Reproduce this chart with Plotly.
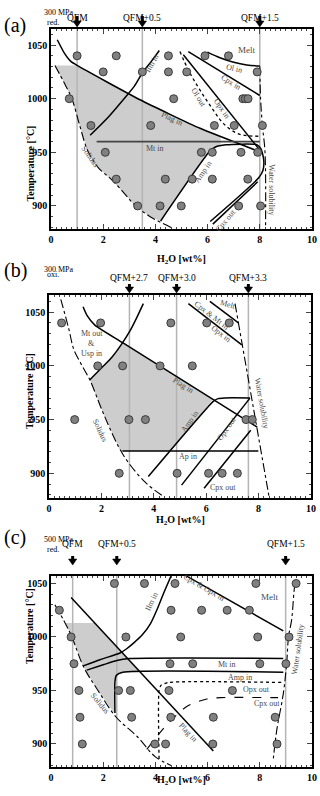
import plotly.graph_objects as go

FIG_W, FIG_H = 320, 796
SERIF = "Liberation Serif"
LBL = "#4a4a4a"

# ================= Panel (a): 300 MPa, reduced =================
a_qfm_x = [1.0, 3.5, 8.0]
a_qfm_labels = ["QFM", "QFM+0.5", "QFM+1.5"]
a_exp_x = [1.0, 2.5, 4.5, 5.9, 6.8,
           2.0, 3.5, 4.5, 5.2, 7.9,
           0.7, 4.7, 7.35, 7.45, 7.55,
           1.53, 3.82, 6.26, 7.02, 8.1,
           2.08, 5.76, 6.18, 7.28, 7.92,
           2.5, 4.38, 5.41, 6.18, 7.54,
           3.32, 4.18, 4.99, 7.19, 8.03]
a_exp_T = [1040, 1040, 1040, 1040, 1040,
           1025, 1025, 1025, 1025, 1025,
           1000, 1000, 1000, 1000, 1000,
           975, 975, 975, 975, 975,
           950, 950, 950, 950, 950,
           925, 925, 925, 925, 925,
           900, 900, 900, 900, 900]
a_solidus_x = [0.15, 0.5, 0.8, 1.1, 1.4, 1.8, 2.3, 2.8, 3.2, 3.8, 4.6]
a_solidus_T = [1031, 1015, 1000, 975, 952, 936, 925, 912, 901, 890, 880]
a_plag_x = [0.24, 0.5, 0.75, 1.0, 3.41, 5.71, 8.05]
a_plag_T = [1055, 1043, 1035, 1031, 999, 972.4, 950]
a_ilm_x = [1.5, 2.2, 2.8, 3.2, 3.5, 3.85, 4.15]
a_ilm_T = [966, 983, 1000, 1012, 1024, 1035, 1045]
a_mt_x = [1.75, 8.0]
a_mt_T = [960, 960]
a_amp_x = [4.2, 6.05, 6.3, 6.7, 7.9, 8.05, 8.15, 8.12, 7.95, 6.1]
a_amp_T = [886, 950, 955, 957, 957, 953, 943, 933, 926, 885.5]
a_cpxout_x = [7.92, 6.2]
a_cpxout_T = [922.5, 883]
a_olout_x = [4.94, 5.3, 5.71, 6.2, 6.6, 7.1, 7.5, 8.0]
a_olout_T = [1044, 1025, 1008, 990, 977, 968, 965.5, 965]
a_opxin_x = [5.07, 7.9, 8.1]
a_opxin_T = [1041, 955, 949]
a_cpxin_x = [5.26, 8.0]
a_cpxin_T = [1044, 1003]
a_olin_x = [5.99, 6.5, 7.0, 7.5, 8.0]
a_olin_T = [1043.5, 1038, 1034, 1031.5, 1030.5]
a_water_x = [8.0, 8.03, 8.1, 8.2, 8.22]
a_water_T = [1030, 1000, 975, 950, 880]
a_shade_x = [4.2, 3.8, 3.2, 2.8, 2.3, 1.8, 1.4, 1.1, 0.8, 0.5, 0.15, 1.0, 3.41, 5.71, 6.5, 6.5, 6.3, 6.05, 4.2]
a_shade_T = [886, 890, 901, 912, 925, 936, 952, 975, 1000, 1015, 1031, 1031, 999, 972.4, 964.8, 957, 955, 950, 886]

# ================= Panel (b): 300 MPa, oxidized =================
b_qfm_x = [3.07, 4.87, 7.61]
b_qfm_labels = ["QFM+2.7", "QFM+3.0", "QFM+3.3"]
b_exp_x = [0.48, 1.97, 4.65, 6.02, 6.88,
           1.86, 2.81, 4.24, 5.47,
           0.98, 3.05, 3.68, 7.52, 7.76,
           2.68, 4.89, 6.09, 6.61, 7.19]
b_exp_T = [1040, 1040, 1040, 1040, 1040,
           1000, 1000, 1000, 1000,
           950, 950, 950, 950, 950,
           900, 900, 900, 900, 900]
b_solidus_x = [0.45, 0.75, 0.95, 1.2, 1.4, 1.56, 2.07, 2.65, 3.0, 3.7, 4.4]
b_solidus_T = [1062, 1035, 1015, 1003, 994, 987, 956, 925, 911, 891, 878]
b_mtout_x = [1.56, 2.0, 2.4, 2.81, 3.1, 3.35, 3.6]
b_mtout_T = [987, 998, 1008, 1021.6, 1033, 1045, 1058]
b_plag_x = [1.3, 1.45, 1.75, 2.81, 7.95]
b_plag_T = [1055, 1047, 1038, 1021.6, 943]
b_melt_x = [6.14, 7.23]
b_melt_T = [1060, 1040]
b_cpxmt_x = [5.32, 7.36]
b_cpxmt_T = [1058, 1019.5]
b_water_x = [7.1, 8.4]
b_water_T = [1058, 878]
b_amp_x = [3.79, 6.27, 6.45, 6.7, 7.67]
b_amp_T = [897, 967, 969.5, 970.2, 970.2]
b_opxout_x = [7.67, 5.06]
b_opxout_T = [970, 889]
b_cpxout_x = [7.7, 5.92]
b_cpxout_T = [940, 886]
b_ap_x = [2.8, 7.99]
b_ap_T = [920.7, 920.7]
b_shade_x = [1.56, 2.0, 2.4, 2.81, 6.25, 4.63, 2.72, 2.65, 2.07, 1.56]
b_shade_T = [987, 998, 1008, 1021.6, 969, 920.7, 920.7, 925, 956, 987]

# ================= Panel (c): 500 MPa, reduced =================
c_qfm_x = [0.83, 2.52, 8.99]
c_qfm_labels = ["QFM", "QFM+0.5", "QFM+1.5"]
c_exp_x = [2.43, 3.58, 4.75, 7.85, 9.39,
           0.32, 4.6, 5.77, 6.75, 7.6,
           0.77, 2.87, 4.97, 7.92, 9.12,
           0.88, 4.56, 5.43, 8.0, 9.0,
           1.07, 2.59, 3.04, 4.52, 6.95,
           1.11, 3.09, 4.59, 6.22, 8.59,
           1.2, 3.98, 4.39, 6.2, 8.66]
c_exp_T = [1050, 1050, 1050, 1050, 1050,
           1025, 1025, 1025, 1025, 1025,
           1000, 1000, 1000, 1000, 1000,
           975, 975, 975, 975, 975,
           950, 950, 950, 950, 950,
           925, 925, 925, 925, 925,
           900, 900, 900, 900, 900]
c_solidus_x = [0.15, 0.5, 0.8, 1.25, 1.8, 2.5, 3.3, 4.0, 4.6]
c_solidus_T = [1030, 1015, 1000, 972, 950, 925, 907, 888, 880]
c_plag_x = [0.77, 6.22]
c_plag_T = [1037, 893.4]
c_ilm_x = [1.24, 1.9, 2.64, 2.9, 3.15, 3.5, 3.8, 4.05, 4.3, 4.6]
c_ilm_T = [973, 979, 985, 989, 994, 1002, 1012, 1025, 1040, 1057]
c_mt_x = [1.37, 2.0, 2.52, 3.0, 8.9]
c_mt_T = [969, 974, 978, 979.8, 980]
c_amp_x = [2.45, 2.45, 2.5, 2.75, 8.9]
c_amp_T = [929, 958, 964, 967, 967]
c_opxout_x = [4.14, 4.14, 4.22, 4.5, 8.88]
c_opxout_T = [886, 950, 955, 957.5, 957.5]
c_cpxout_x = [3.67, 4.43, 5.2, 5.97, 6.5, 8.7]
c_cpxout_T = [895, 917.7, 935, 942, 943.3, 943.3]
c_cpxopx_x = [5.2, 8.9]
c_cpxopx_T = [1056.8, 1005.7]
c_water_x = [9.39, 9.35, 9.22, 9.1, 9.03, 8.9, 8.65, 8.52]
c_water_T = [1050, 1048.6, 1016, 1000, 975.4, 947, 913, 886.6]
c_shade_x = [0.55, 1.68, 3.43, 2.75, 2.5, 2.45, 2.45, 1.8, 1.25, 0.8, 0.55]
c_shade_T = [1013, 1013, 967, 967, 964, 958, 928, 950, 972, 1000, 1013]

# ================= geometry (pixels) =================
panels = {
    "a": dict(x0=51, x1=312, top=29, bot=229, yr=[878.5, 1065]),
    "b": dict(x0=49, x1=311, top=295, bot=498, yr=[877, 1066]),
    "c": dict(x0=51, x1=312, top=576, bot=767, yr=[878.5, 1057]),
}
suffix = {"a": "", "b": "2", "c": "3"}

fig = go.Figure()


def px(xp):
    return xp / FIG_W


def py(yp):
    return 1 - yp / FIG_H


def ax(p):
    s = suffix[p]
    return "x" + s, "y" + s


def add_line(p, xs, ys, dash="solid", color="black", width=1.5, shape="linear", smooth=1.0):
    xa, ya = ax(p)
    line = dict(color=color, width=width, dash=dash, shape=shape)
    if shape == "spline":
        line["smoothing"] = smooth
    fig.add_trace(go.Scatter(x=xs, y=ys, mode="lines", line=line, xaxis=xa, yaxis=ya,
                             hoverinfo="skip", showlegend=False))


def add_shade(p, xs, ys):
    xa, ya = ax(p)
    fig.add_trace(go.Scatter(x=xs, y=ys, mode="lines", fill="toself", fillcolor="#cdcdcd",
                             line=dict(width=0, color="rgba(0,0,0,0)"), xaxis=xa, yaxis=ya,
                             hoverinfo="skip", showlegend=False))


def add_vlines(p, xs):
    r = panels[p]["yr"]
    for x in xs:
        add_line(p, [x, x], r, color="#b4b4b4", width=1.5)


def add_dots(p, xs, ys):
    xa, ya = ax(p)
    fig.add_trace(go.Scatter(x=xs, y=ys, mode="markers",
                             marker=dict(size=8, color="#808080", line=dict(color="#3a3a3a", width=1)),
                             xaxis=xa, yaxis=ya, hoverinfo="skip", showlegend=False))


annotations = []
shapes = []


def label(p, x, y, text, angle=0, size=8, color=LBL):
    xa, ya = ax(p)
    annotations.append(dict(x=x, y=y, xref=xa, yref=ya, text=text, showarrow=False,
                            textangle=angle, font=dict(family=SERIF, size=size, color=color)))


def header(p, letter, pressure, cond, qx, qlabels, qlab_y, letter_y, press_y, cond_y,
           arrow_tip, arrow_top):
    g = panels[p]
    xa, _ = ax(p)
    annotations.append(dict(x=px(3), y=py(letter_y), xref="paper", yref="paper", xanchor="left",
                            text=letter, showarrow=False, borderpad=0,
                            font=dict(family=SERIF, size=20, color="black")))
    annotations.append(dict(x=px(43), y=py(press_y), xref="paper", yref="paper",
                            text=pressure, showarrow=False, borderpad=0,
                            font=dict(family=SERIF, size=8, color="black")))
    annotations.append(dict(x=px(46), y=py(cond_y), xref="paper", yref="paper",
                            text=cond, showarrow=False, borderpad=0,
                            font=dict(family=SERIF, size=8, color="black")))
    for x, t in zip(qx, qlabels):
        annotations.append(dict(x=x, y=py(qlab_y), xref=xa, yref="paper", text=t,
                                showarrow=False, borderpad=0,
                                font=dict(family=SERIF, size=9.5, color="black")))
        shapes.append(dict(type="line", xref=xa, yref="paper", x0=x, x1=x,
                           y0=py(arrow_top), y1=py(arrow_tip - 5),
                           line=dict(color="black", width=3)))
        dx = 0.16
        path = "M {a},{ya} L {b},{ya} L {c},{yt} Z".format(
            a=x - dx, b=x + dx, c=x, ya=py(arrow_tip - 6), yt=py(arrow_tip))
        shapes.append(dict(type="path", xref=xa, yref="paper", path=path,
                           fillcolor="black", line=dict(color="black", width=0.5)))
    annotations.append(dict(x=5, y=py(g["bot"] + 22), xref=xa, yref="paper",
                            text="<b>H<sub>2</sub>O [wt%]</b>", showarrow=False,
                            font=dict(family=SERIF, size=10, color="black")))
    annotations.append(dict(x=px(22), y=py((g["top"] + g["bot"]) / 2 - 5), xref="paper", yref="paper",
                            text="<b>Temperature [°C]</b>", textangle=-90, showarrow=False,
                            font=dict(family=SERIF, size=10, color="black")))


# ---------------- panel a ----------------
add_shade("a", a_shade_x, a_shade_T)
add_vlines("a", a_qfm_x)
add_line("a", a_solidus_x, a_solidus_T, dash="dashdot", width=1.1, shape="spline")
add_line("a", a_plag_x, a_plag_T, shape="spline", smooth=0.5)
add_line("a", a_ilm_x, a_ilm_T, shape="spline", smooth=0.8)
add_line("a", a_mt_x, a_mt_T, color="#444444", width=1.8)
add_line("a", a_amp_x, a_amp_T, shape="spline", smooth=0.6)
add_line("a", a_cpxout_x, a_cpxout_T)
add_line("a", a_olout_x, a_olout_T, dash="dot", width=1.3, shape="spline")
add_line("a", a_opxin_x, a_opxin_T)
add_line("a", a_cpxin_x, a_cpxin_T)
add_line("a", a_olin_x, a_olin_T, shape="spline")
add_line("a", a_water_x, a_water_T, dash="dashdot", width=1.1, shape="spline")
add_dots("a", a_exp_x, a_exp_T)
label("a", 7.5, 1045, "Melt", 0, 9)
label("a", 7.0, 1028, "Ol in", 12)
label("a", 6.9, 1015, "Cpx in", 32)
label("a", 5.65, 1001, "Ol out", 58)
label("a", 6.55, 991, "Opx in", 55)
label("a", 4.62, 982, "Plag in", 25)
label("a", 3.86, 1033, "Ilm in", -60)
label("a", 3.98, 954, "Mt in", 0)
label("a", 5.84, 932, "Amp in", -55)
label("a", 6.7, 886, "Cpx out", -50)
label("a", 1.49, 946, "Solidus", 55)
label("a", 8.45, 915, "Water solubility", 90)
header("a", "(a)", "300 MPa", "red.", a_qfm_x, a_qfm_labels,
       qlab_y=12, letter_y=13, press_y=7, cond_y=17, arrow_tip=27, arrow_top=16)

# ---------------- panel b ----------------
add_shade("b", b_shade_x, b_shade_T)
add_vlines("b", b_qfm_x)
add_line("b", b_solidus_x, b_solidus_T, dash="dashdot", width=1.1, shape="spline")
add_line("b", b_mtout_x, b_mtout_T, shape="spline")
add_line("b", b_plag_x, b_plag_T, shape="spline", smooth=0.5)
add_line("b", b_melt_x, b_melt_T)
add_line("b", b_cpxmt_x, b_cpxmt_T)
add_line("b", b_water_x, b_water_T, dash="dashdot", width=1.1)
add_line("b", b_amp_x, b_amp_T, shape="spline", smooth=0.5)
add_line("b", b_opxout_x, b_opxout_T)
add_line("b", b_cpxout_x, b_cpxout_T)
add_line("b", b_ap_x, b_ap_T)
add_dots("b", b_exp_x, b_exp_T)
label("b", 6.84, 1057, "Melt", 15)
label("b", 6.2, 1047, "Cpx & Mt in", 38)
label("b", 6.55, 1030, "Opx in", 38)
label("b", 1.63, 1030, "Mt out")
label("b", 1.63, 1021, "&")
label("b", 1.63, 1012, "Usp in")
label("b", 5.13, 982, "Plag in", 32)
label("b", 5.38, 948, "Amp in", -55)
label("b", 6.78, 942, "Opx out", -55)
label("b", 6.65, 887, "Cpx out")
label("b", 5.32, 916, "Ap in")
label("b", 1.95, 940, "Solidus", 65)
label("b", 8.12, 965, "Water solubility", 80)
header("b", "(b)", "300 MPa", "oxi.", b_qfm_x, b_qfm_labels,
       qlab_y=278, letter_y=271, press_y=264, cond_y=274, arrow_tip=293, arrow_top=284)

# ---------------- panel c ----------------
add_shade("c", c_shade_x, c_shade_T)
add_vlines("c", c_qfm_x)
add_line("c", c_solidus_x, c_solidus_T, dash="dashdot", width=1.1, shape="spline")
add_line("c", c_plag_x, c_plag_T)
add_line("c", c_ilm_x, c_ilm_T, shape="spline", smooth=0.8)
add_line("c", c_mt_x, c_mt_T, shape="spline", smooth=0.6)
add_line("c", c_amp_x, c_amp_T, shape="spline", smooth=0.6)
add_line("c", c_opxout_x, c_opxout_T, dash="dot", width=1.3, shape="spline", smooth=0.6)
add_line("c", c_cpxout_x, c_cpxout_T, dash="dash", width=1.1, shape="spline", smooth=0.8)
add_line("c", c_cpxopx_x, c_cpxopx_T)
add_line("c", c_water_x, c_water_T, dash="dashdot", width=1.1, shape="spline")
add_dots("c", c_exp_x, c_exp_T)
label("c", 3.86, 1033, "Ilm in", -65)
label("c", 5.85, 1046, "Cpx & Opx in", 30)
label("c", 8.39, 1037, "Melt", 0, 9)
label("c", 6.73, 974.5, "Mt in")
label("c", 7.24, 962.5, "Amp in")
label("c", 7.88, 950.5, "Opx out")
label("c", 8.26, 938, "Cpx out")
label("c", 5.26, 911, "Plag in", 47)
label("c", 1.88, 938, "Solidus", 50)
label("c", 9.47, 988, "Water solubility", -82)
header("c", "(c)", "500 MPa", "red.", c_qfm_x, c_qfm_labels,
       qlab_y=550, letter_y=550, press_y=545, cond_y=555, arrow_tip=565, arrow_top=556)

layout = dict(
    width=FIG_W, height=FIG_H, margin=dict(l=0, r=0, t=0, b=0),
    paper_bgcolor="white", plot_bgcolor="white", showlegend=False,
    annotations=annotations, shapes=shapes,
)
tickfont = dict(family=SERIF, size=10, color="black", weight="bold")
for p, g in panels.items():
    s = suffix[p]
    layout["xaxis" + s] = dict(
        domain=[px(g["x0"]), px(g["x1"])], range=[0, 10], anchor="y" + s,
        tickvals=[0, 2, 4, 6, 8, 10], ticks="inside", ticklen=5, tickwidth=1.2,
        minor=dict(dtick=0.2, ticks="inside", ticklen=2.5, tickwidth=1),
        showline=True, linecolor="black", linewidth=1.6, mirror="ticks",
        showgrid=False, zeroline=False, tickfont=tickfont, automargin=False,
    )
    layout["yaxis" + s] = dict(
        domain=[py(g["bot"]), py(g["top"])], range=g["yr"], anchor="x" + s,
        tickvals=[900, 950, 1000, 1050], ticks="inside", ticklen=5, tickwidth=1.2,
        minor=dict(dtick=10, tick0=900, ticks="inside", ticklen=2.5, tickwidth=1),
        showline=True, linecolor="black", linewidth=1.6, mirror="ticks",
        showgrid=False, zeroline=False, tickfont=tickfont, automargin=False,
    )
fig.update_layout(**layout)
fig.write_html("out.html", config={"displayModeBar": False},
               post_script="document.body.style.margin='0';")
